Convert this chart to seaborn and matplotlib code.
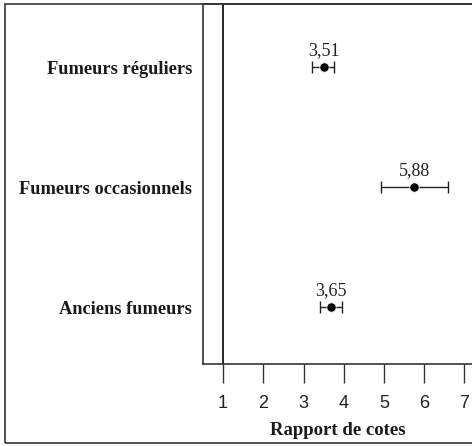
import numpy as np
import pandas as pd
import matplotlib
matplotlib.use('Agg')
import matplotlib.pyplot as plt
from matplotlib.patches import Rectangle
import seaborn as sns

# data
groups = ['Fumeurs réguliers', 'Fumeurs occasionnels', 'Anciens fumeurs']
odds = [3.51, 5.75, 3.69]
ci_low = [3.21, 4.93, 3.41]
ci_high = [3.76, 6.60, 3.96]
value_labels = ['3,51', '5,88', '3,65']
xticks = [1, 2, 3, 4, 5, 6, 7]

df = pd.DataFrame({'groupe': groups, 'rc': odds, 'bas': ci_low, 'haut': ci_high})

sns.set_style('white')
plt.rcParams['font.family'] = ['Liberation Serif', 'DejaVu Serif']

fig = plt.figure(figsize=(4.72, 4.46), dpi=100)
ax = fig.add_axes([203 / 472, 82 / 446, 1 - 203 / 472, 360 / 446])

# outer frame (open on the right)
fig.add_artist(Rectangle((5 / 472, 3 / 446), 1.2, 1 - 7 / 446, transform=fig.transFigure,
                         fill=False, edgecolor='#333333', lw=1.2))

# confidence intervals
ypos = np.arange(len(df))
ax.errorbar(df['rc'], ypos, xerr=[df['rc'] - df['bas'], df['haut'] - df['rc']],
            fmt='none', ecolor='#222222', elinewidth=1, capsize=4.5, capthick=1)
sns.scatterplot(data=df, x='rc', y=ypos, color='black', s=45, zorder=3, ax=ax, legend=False)

for y, x, txt in zip(ypos, df['rc'], value_labels):
    ax.text(x, y - 0.065, txt, ha='center', va='bottom', fontsize=13, color='#222222')

ax.axvline(1, color='black', lw=1.2)

ax.set_xlim(0.5, 0.5 + 269 / 40.2)
ax.set_ylim(2.475, -0.525)
ax.set_yticks(ypos)
ax.set_yticklabels(groups, fontsize=13.2, fontweight='bold', color='#1a1a1a')
ax.tick_params(axis='y', length=0, pad=8)
ax.set_xticks(xticks)
ax.set_xticklabels([str(t) for t in xticks], family=['Liberation Sans'], fontsize=13, color='#222222')
ax.tick_params(axis='x', direction='out', length=13.5, width=1, pad=9, color='#333333', bottom=True)
ax.set_xlabel('Rapport de cotes', fontsize=13.5, fontweight='bold', color='#1a1a1a', labelpad=7)
ax.set_ylabel('')

ax.spines['right'].set_visible(False)
for s in ['left', 'bottom', 'top']:
    ax.spines[s].set_color('#333333')
    ax.spines[s].set_linewidth(1.2)

fig.savefig('out.png', dpi=100)
